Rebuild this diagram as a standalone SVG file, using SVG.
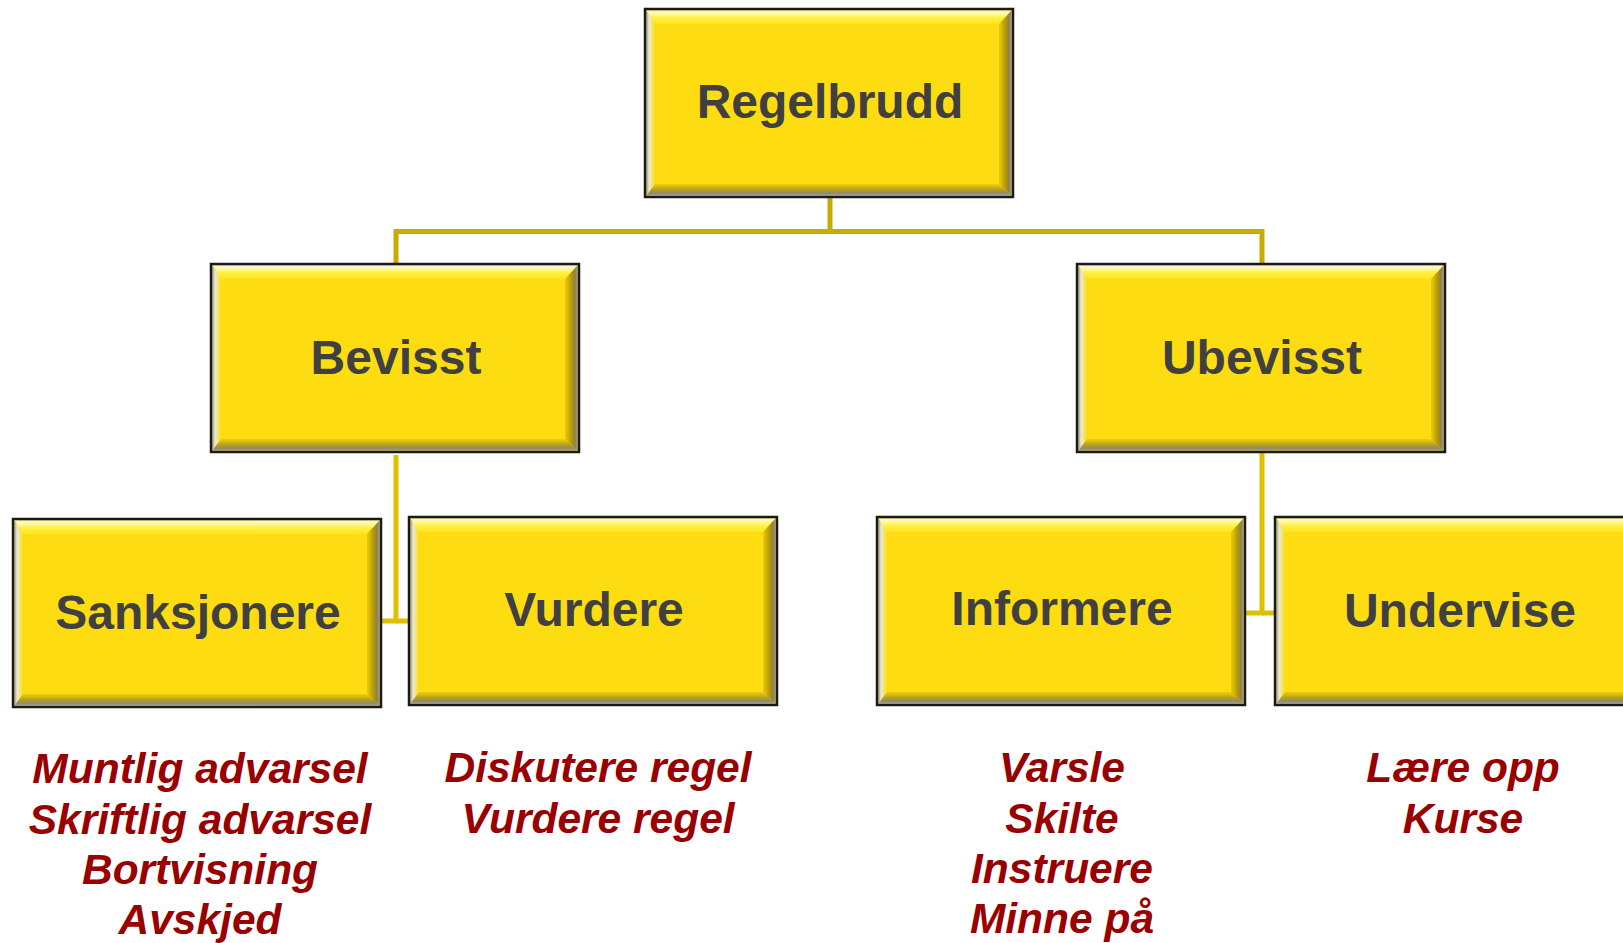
<svg xmlns="http://www.w3.org/2000/svg" xmlns:xlink="http://www.w3.org/1999/xlink" width="1623" height="943" viewBox="0 0 1623 943">
<style>
.lbl{font-family:"Liberation Sans",Arial,sans-serif;font-weight:bold;font-size:48px;fill:#404040;text-anchor:middle}
.sub{font-family:"Liberation Sans",Arial,sans-serif;font-weight:bold;font-style:italic;font-size:42.5px;fill:#990000;text-anchor:middle}
.c1{fill:none;stroke:#C8AA00;stroke-width:5}
.c2{fill:none;stroke:#DEC000;stroke-width:5}
</style>
<defs>
<linearGradient id="gTop" x1="0" y1="0" x2="0" y2="1">
<stop offset="0" stop-color="#F4F4F0"/>
<stop offset="0.25" stop-color="#FFF9A0"/>
<stop offset="0.55" stop-color="#FFF040"/>
<stop offset="1" stop-color="#FFE420"/>
</linearGradient>
<linearGradient id="gLeft" x1="0" y1="0" x2="1" y2="0">
<stop offset="0" stop-color="#9A9A9A"/>
<stop offset="0.3" stop-color="#E8E8E0"/>
<stop offset="0.7" stop-color="#F6E460"/>
<stop offset="1" stop-color="#FCDC18"/>
</linearGradient>
<linearGradient id="gRight" x1="0" y1="0" x2="1" y2="0">
<stop offset="0" stop-color="#EBCB10"/>
<stop offset="0.5" stop-color="#B89C00"/>
<stop offset="0.8" stop-color="#8C8050"/>
<stop offset="1" stop-color="#9A9A9A"/>
</linearGradient>
<linearGradient id="gBot" x1="0" y1="0" x2="0" y2="1">
<stop offset="0" stop-color="#EED010"/>
<stop offset="0.5" stop-color="#B8A018"/>
<stop offset="0.8" stop-color="#8E8A70"/>
<stop offset="1" stop-color="#A0A0A0"/>
</linearGradient>
<g id="box">
<rect x="0" y="0" width="368" height="188" fill="#FEDC12"/>
<polygon points="1.5,1.5 366.5,1.5 354,15 10,15" fill="url(#gTop)"/>
<polygon points="1.5,1.5 10,15 10,175 1.5,186.5" fill="url(#gLeft)"/>
<polygon points="366.5,1.5 366.5,186.5 354,175 354,15" fill="url(#gRight)"/>
<polygon points="1.5,186.5 10,175 354,175 366.5,186.5" fill="url(#gBot)"/>
<rect x="0" y="0" width="368" height="188" fill="none" stroke="#1A1A1A" stroke-width="2.5"/>
</g>
</defs>
<rect width="1623" height="943" fill="#FFFFFF"/>
<g id="connectors">
<polyline class="c1" points="396,264 396,231.5 1262,231.5 1262,264"/>
<line class="c1" x1="830" y1="197" x2="830" y2="231.5"/>
<polyline class="c2" points="382,621 396,621 396,455"/>
<line class="c2" x1="396" y1="621" x2="409" y2="621"/>
<polyline class="c2" points="1245,613 1262,613 1262,452"/>
<line class="c2" x1="1262" y1="613" x2="1275" y2="613"/>
</g>
<g id="n-regelbrudd">
<use xlink:href="#box" href="#box" x="645" y="9"/>
<text class="lbl" x="830" y="118">Regelbrudd</text>
</g>
<g id="n-bevisst">
<use xlink:href="#box" href="#box" x="211" y="264"/>
<text class="lbl" x="396" y="374">Bevisst</text>
</g>
<g id="n-ubevisst">
<use xlink:href="#box" href="#box" x="1077" y="264"/>
<text class="lbl" x="1262" y="374">Ubevisst</text>
</g>
<g id="n-sanksjonere">
<use xlink:href="#box" href="#box" x="13" y="519"/>
<text class="lbl" x="198" y="629">Sanksjonere</text>
</g>
<g id="n-vurdere">
<use xlink:href="#box" href="#box" x="409" y="517"/>
<text class="lbl" x="594" y="626">Vurdere</text>
</g>
<g id="n-informere">
<use xlink:href="#box" href="#box" x="877" y="517"/>
<text class="lbl" x="1062" y="625">Informere</text>
</g>
<g id="n-undervise">
<use xlink:href="#box" href="#box" x="1275" y="517"/>
<text class="lbl" x="1460" y="627">Undervise</text>
</g>
<g id="t-sanksjonere">
<text class="sub" x="200" y="783">Muntlig advarsel</text>
<text class="sub" x="200" y="834">Skriftlig advarsel</text>
<text class="sub" x="200" y="884">Bortvisning</text>
<text class="sub" x="200" y="934">Avskjed</text>
</g>
<g id="t-vurdere">
<text class="sub" x="598" y="782">Diskutere regel</text>
<text class="sub" x="598" y="833">Vurdere regel</text>
</g>
<g id="t-informere">
<text class="sub" x="1062" y="782">Varsle</text>
<text class="sub" x="1062" y="833">Skilte</text>
<text class="sub" x="1062" y="883">Instruere</text>
<text class="sub" x="1062" y="933">Minne på</text>
</g>
<g id="t-undervise">
<text class="sub" x="1463" y="782">Lære opp</text>
<text class="sub" x="1463" y="833">Kurse</text>
</g>
</svg>
